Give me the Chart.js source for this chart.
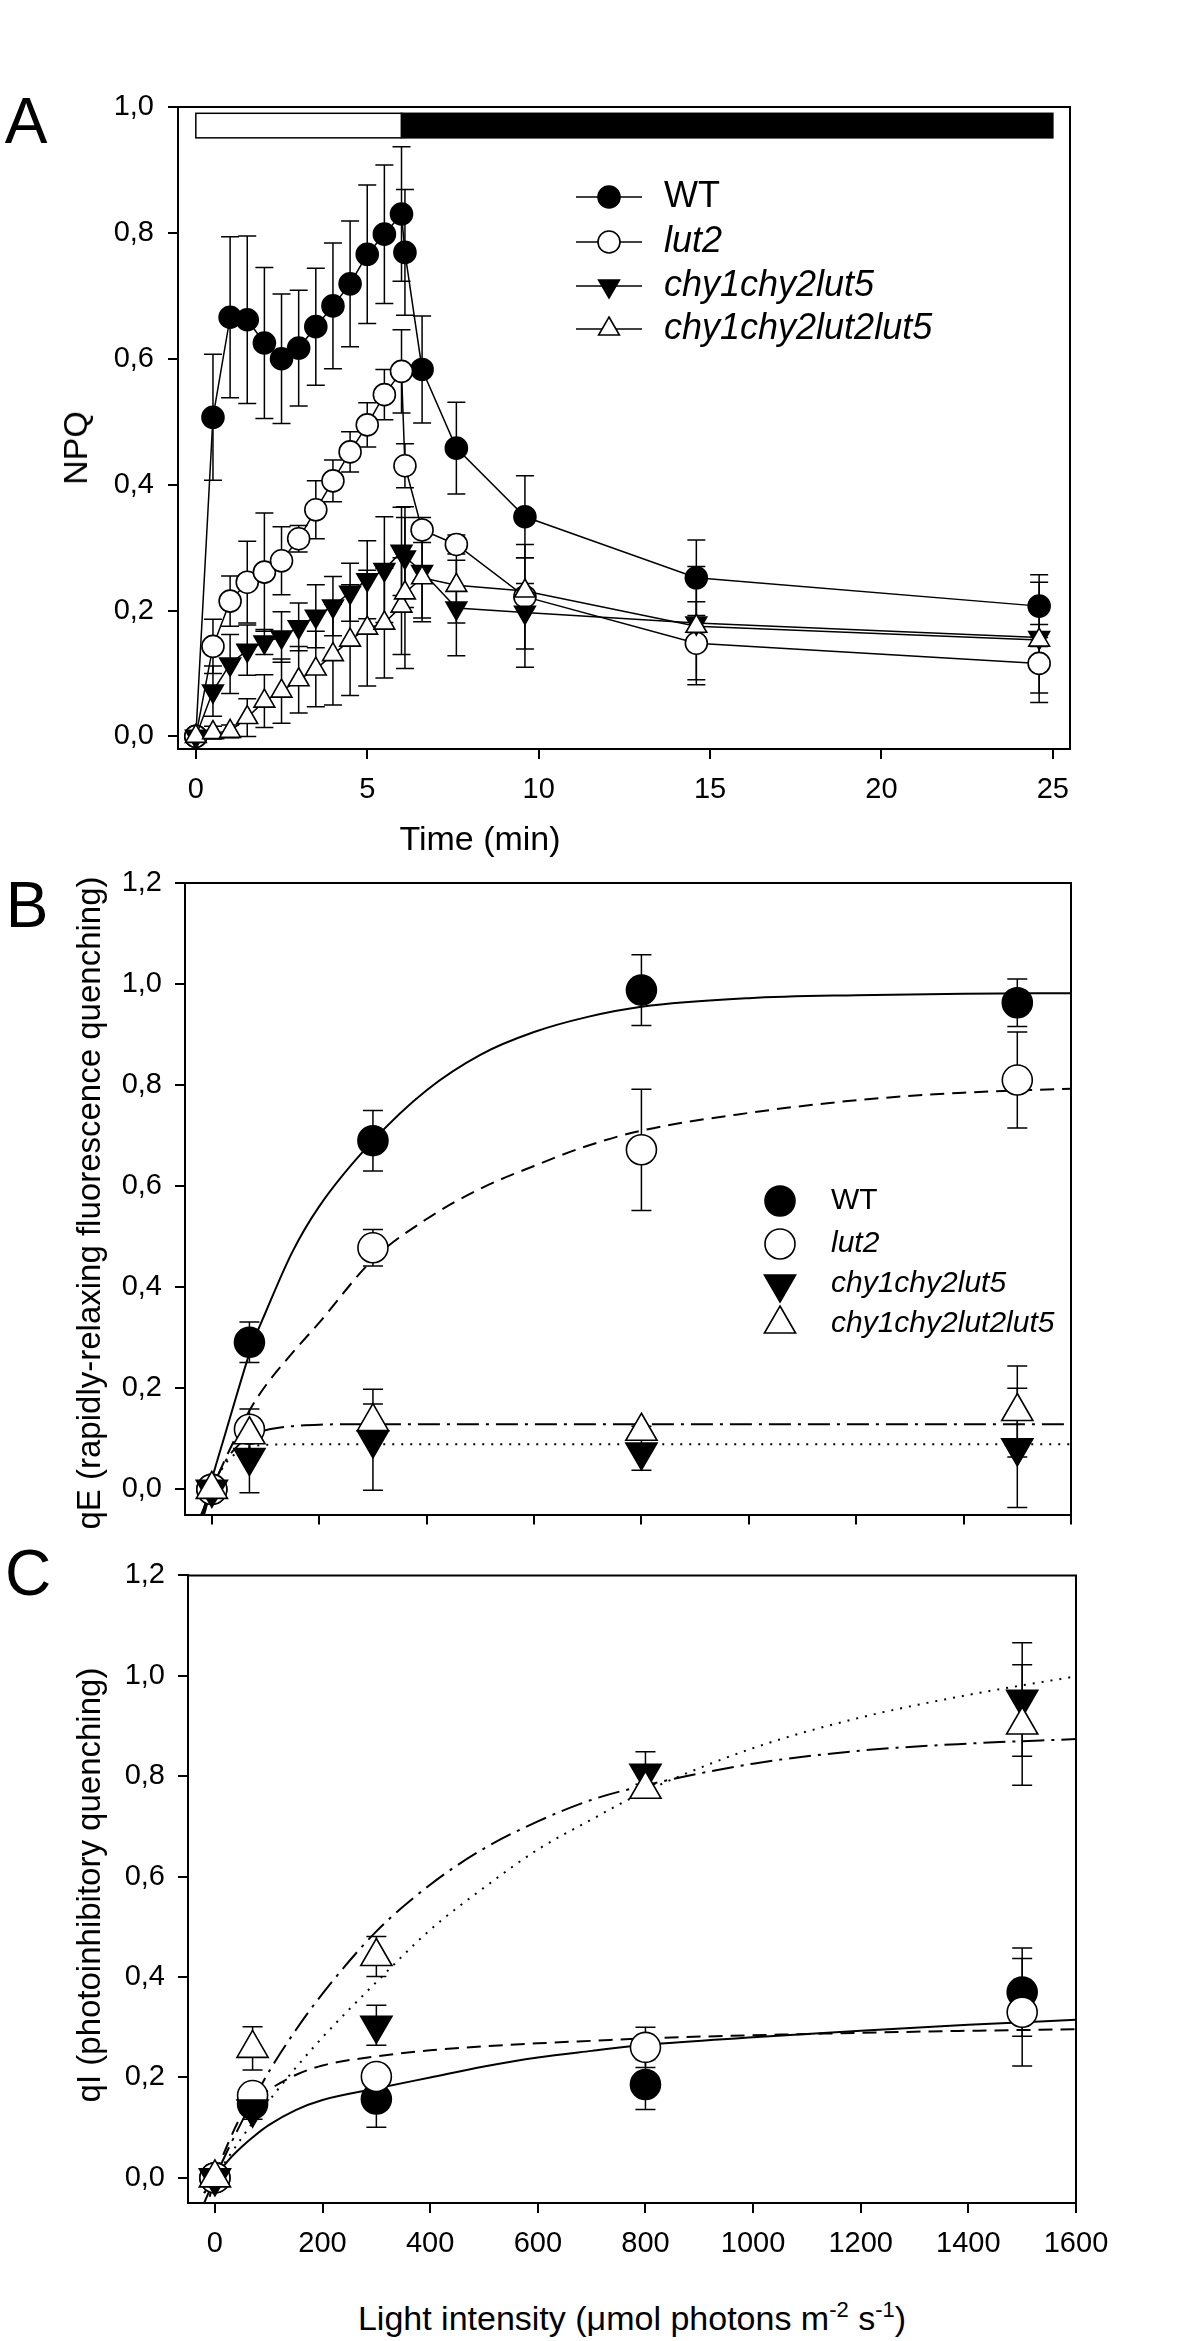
<!DOCTYPE html>
<html>
<head>
<meta charset="utf-8">
<script src="https://cdn.jsdelivr.net/npm/chart.js@4.4.1/dist/chart.umd.min.js"></script>
<style>
  html, body { margin: 0; padding: 0; background: #fff; }
  body { width: 1200px; height: 2341px; position: relative; overflow: hidden;
         font-family: 'Liberation Sans', Arial, sans-serif; color: #000; }
  canvas { position: absolute; left: 0; }
  .lbl { position: absolute; transform: translate(-50%, -50%); white-space: nowrap; line-height: 1; }
  .panel { font-size: 64px; }
  .title { font-size: 34px; }
  .rot { transform: translate(-50%, -50%) rotate(-90deg); }
  sup { font-size: 22px; line-height: 0; vertical-align: 0; position: relative; top: -13px; }
</style>
</head>
<body>
<canvas id="chartA" width="1200" height="810" style="top:0"></canvas>
<canvas id="chartB" width="1200" height="695" style="top:850px"></canvas>
<canvas id="chartC" width="1200" height="745" style="top:1545px"></canvas>

<div class="lbl panel" style="left:26px;top:121px">A</div>
<div class="lbl panel" style="left:27px;top:905px">B</div>
<div class="lbl panel" style="left:28px;top:1573px">C</div>

<div class="lbl title rot" style="left:75px;top:448px">NPQ</div>
<div class="lbl title" style="left:480px;top:838px">Time (min)</div>
<div class="lbl title rot" style="left:88px;top:1203px;font-size:33px">qE (rapidly-relaxing fluorescence quenching)</div>
<div class="lbl title rot" style="left:88px;top:1885px;font-size:33px">qI (photoinhibitory quenching)</div>
<div class="lbl title" style="left:632px;top:2318px">Light intensity (&mu;mol photons m<sup>-2</sup> s<sup>-1</sup>)</div>

<script>
const FONT = "'Liberation Sans', Arial, sans-serif";

// ---------- Panel A: NPQ during 6 min light and dark relaxation ----------
const timeA = [0, 0.5, 1, 1.5, 2, 2.5, 3, 3.5, 4, 4.5, 5, 5.5, 6, 6.1, 6.6, 7.6, 9.6, 14.6, 24.6];
const npqWT = [0, 0.507, 0.666, 0.662, 0.625, 0.600, 0.617, 0.651, 0.684, 0.719, 0.766, 0.798, 0.830, 0.769, 0.583, 0.458, 0.349, 0.252, 0.207];
const npqWTErr = [0, 0.10, 0.128, 0.133, 0.12, 0.103, 0.092, 0.093, 0.10, 0.10, 0.11, 0.11, 0.107, 0.10, 0.085, 0.073, 0.065, 0.06, 0.05];
const npqLut2 = [0, 0.143, 0.215, 0.245, 0.261, 0.279, 0.314, 0.360, 0.406, 0.452, 0.495, 0.543, 0.580, 0.430, 0.328, 0.305, 0.222, 0.148, 0.116];
const npqLut2Err = [0, 0.043, 0.04, 0.065, 0.094, 0.054, 0.021, 0.046, 0.033, 0.032, 0.035, 0.04, 0.066, 0.035, 0.02, 0.015, 0.083, 0.066, 0.062];
const npqChy = [0, 0.072, 0.115, 0.137, 0.150, 0.158, 0.174, 0.191, 0.207, 0.229, 0.249, 0.265, 0.294, 0.285, 0.262, 0.204, 0.197, 0.180, 0.157];
const npqChyErr = [0, 0.04, 0.047, 0.04, 0.02, 0.04, 0.038, 0.05, 0.047, 0.046, 0.062, 0.084, 0.07, 0.08, 0.074, 0.076, 0.087, 0.09, 0.088];
const npqTriple = [0, 0.006, 0.008, 0.030, 0.056, 0.072, 0.090, 0.107, 0.130, 0.153, 0.172, 0.180, 0.207, 0.228, 0.252, 0.240, 0.231, 0.175, 0.153];
const npqTripleErr = [0, 0.01, 0.01, 0.03, 0.042, 0.051, 0.053, 0.06, 0.08, 0.088, 0.092, 0.087, 0.077, 0.12, 0.07, 0.06, 0.012, 0.01, 0.01];
const lightOn = [0, 6];
const lightOff = [6, 25];
const ticksTime = [0, 5, 10, 15, 20, 25];
const ticksNPQ = [0, 0.2, 0.4, 0.6, 0.8, 1.0];

// ---------- Panels B and C: light response ----------
const lightI = [0, 70, 300, 800, 1500];
const qeWT = [0, 0.291, 0.690, 0.988, 0.963];
const qeWTErr = [0.01, 0.04, 0.06, 0.07, 0.047];
const qeLut2 = [0, 0.119, 0.478, 0.672, 0.810];
const qeLut2Err = [0.01, 0.04, 0.036, 0.12, 0.095];
const qeChy = [0, 0.063, 0.098, 0.074, 0.082];
const qeChyErr = [0.01, 0.07, 0.10, 0.036, 0.118];
const qeTriple = [0, 0.108, 0.134, 0.115, 0.154];
const qeTripleErr = [0.01, 0.03, 0.035, 0.01, 0.09];

const qiWT = [0, 0.147, 0.157, 0.186, 0.370];
const qiWTErr = [0.01, 0.02, 0.056, 0.05, 0.088];
const qiLut2 = [0, 0.164, 0.202, 0.260, 0.330];
const qiLut2Err = [0.01, 0.02, 0.02, 0.04, 0.107];
const qiChy = [0, 0.137, 0.304, 0.806, 0.953];
const qiChyErr = [0.01, 0.02, 0.04, 0.043, 0.113];
const qiTriple = [0, 0.258, 0.441, 0.774, 0.902];
const qiTripleErr = [0.01, 0.043, 0.04, 0.01, 0.12];

// fitted curves
const fitI = [-20, 0, 25, 50, 75, 100, 150, 200, 300, 400, 500, 600, 700, 800, 1000, 1200, 1400, 1600];
const qeFitWT = [-0.06, 0.02, 0.11, 0.20, 0.285, 0.35, 0.47, 0.56, 0.69, 0.79, 0.86, 0.905, 0.935, 0.955, 0.972, 0.978, 0.981, 0.982];
const qeFitLut2 = [-0.05, 0, 0.06, 0.115, 0.165, 0.205, 0.27, 0.33, 0.455, 0.535, 0.595, 0.64, 0.68, 0.71, 0.745, 0.77, 0.785, 0.793];
const qeFitChy = [-0.06, 0, 0.05, 0.075, 0.085, 0.088, 0.089, 0.089, 0.089, 0.089, 0.089, 0.089, 0.089, 0.089, 0.089, 0.089, 0.089, 0.089];
const qeFitTriple = [-0.07, 0, 0.055, 0.088, 0.107, 0.117, 0.125, 0.128, 0.129, 0.129, 0.129, 0.129, 0.129, 0.129, 0.129, 0.129, 0.129, 0.129];
const qiFitWT = [-0.03, 0, 0.035, 0.062, 0.085, 0.105, 0.135, 0.155, 0.178, 0.20, 0.222, 0.24, 0.253, 0.265, 0.28, 0.293, 0.305, 0.315];
const qiFitLut2 = [-0.08, 0, 0.07, 0.125, 0.155, 0.175, 0.205, 0.224, 0.242, 0.254, 0.262, 0.268, 0.273, 0.278, 0.284, 0.289, 0.293, 0.296];
const qiFitChy = [-0.03, 0, 0.041, 0.08, 0.117, 0.153, 0.219, 0.28, 0.39, 0.494, 0.578, 0.654, 0.714, 0.77, 0.856, 0.917, 0.962, 0.999];
const qiFitTriple = [-0.05, 0, 0.058, 0.112, 0.162, 0.211, 0.294, 0.367, 0.491, 0.584, 0.656, 0.71, 0.753, 0.782, 0.825, 0.851, 0.865, 0.874];

const ticksLight = [0, 200, 400, 600, 800, 1000, 1200, 1400, 1600];
const ticksQ = [0, 0.2, 0.4, 0.6, 0.8, 1.0, 1.2];

const genotypes = ['WT', 'lut2', 'chy1chy2lut5', 'chy1chy2lut2lut5'];

// symbol per genotype
const symbols = [
  { pointStyle: 'circle', rotation: 0, fill: '#000', italic: false },
  { pointStyle: 'circle', rotation: 0, fill: '#fff', italic: true },
  { pointStyle: 'triangle', rotation: 180, fill: '#000', italic: true },
  { pointStyle: 'triangle', rotation: 0, fill: '#fff', italic: true }
];
const fitDash = [[], [14, 8], [2, 7], [22, 7, 3, 7]];

const pts = (xs, ys) => xs.map((x, i) => ({ x, y: ys[i] }));
const comma = (v) => v.toFixed(1).replace('.', ',');

function drawMarker(ctx, sym, x, y, r, lw) {
  ctx.beginPath();
  if (sym.pointStyle === 'circle') {
    ctx.arc(x, y, r, 0, Math.PI * 2);
  } else {
    const s = sym.rotation === 180 ? -1 : 1;
    ctx.moveTo(x, y - s * r);
    ctx.lineTo(x + r * 0.866, y + s * r / 2);
    ctx.lineTo(x - r * 0.866, y + s * r / 2);
    ctx.closePath();
  }
  ctx.fillStyle = sym.fill;
  ctx.fill();
  ctx.lineWidth = lw;
  ctx.strokeStyle = '#000';
  ctx.stroke();
}

const errorBars = {
  id: 'errorBars',
  beforeDatasetsDraw(chart, args, o) {
    const { ctx, scales: { x, y } } = chart;
    ctx.save();
    ctx.strokeStyle = '#000';
    ctx.lineWidth = o.width || 1.5;
    chart.data.datasets.forEach((ds) => {
      if (!ds.errors) return;
      ds.data.forEach((p, i) => {
        const e = ds.errors[i];
        if (!e) return;
        const px = x.getPixelForValue(p.x);
        const top = y.getPixelForValue(p.y + e);
        const bot = y.getPixelForValue(p.y - e);
        ctx.beginPath();
        ctx.moveTo(px, top); ctx.lineTo(px, bot);
        ctx.moveTo(px - o.cap, top); ctx.lineTo(px + o.cap, top);
        ctx.moveTo(px - o.cap, bot); ctx.lineTo(px + o.cap, bot);
        ctx.stroke();
      });
    });
    ctx.restore();
  }
};

const frame = {
  id: 'frame',
  afterDraw(chart) {
    const { ctx, chartArea: a } = chart;
    ctx.save();
    ctx.strokeStyle = '#000';
    ctx.lineWidth = 2;
    ctx.beginPath();
    ctx.moveTo(a.left, a.top);
    ctx.lineTo(a.right, a.top);
    ctx.lineTo(a.right, a.bottom);
    ctx.stroke();
    ctx.restore();
  }
};

const lightBar = {
  id: 'lightBar',
  afterDatasetsDraw(chart, args, o) {
    if (!o.periods) return;
    const { ctx, scales: { x, y } } = chart;
    const top = y.getPixelForValue(o.band[1]);
    const bot = y.getPixelForValue(o.band[0]);
    ctx.save();
    ctx.lineWidth = 1.5;
    ctx.strokeStyle = '#000';
    o.periods.forEach((p) => {
      const x0 = x.getPixelForValue(p.range[0]);
      const x1 = x.getPixelForValue(p.range[1]);
      ctx.fillStyle = p.fill;
      ctx.fillRect(x0, top, x1 - x0, bot - top);
      ctx.strokeRect(x0, top, x1 - x0, bot - top);
    });
    ctx.restore();
  }
};

const keyLegend = {
  id: 'keyLegend',
  afterDraw(chart, args, o) {
    if (!o.rows) return;
    const ctx = chart.ctx;
    ctx.save();
    chart.data.datasets.filter((d) => d.sym).forEach((ds, i) => {
      const y = o.rows[i];
      if (o.line) {
        ctx.strokeStyle = '#000';
        ctx.lineWidth = 1.5;
        ctx.beginPath();
        ctx.moveTo(o.line[0], y);
        ctx.lineTo(o.line[1], y);
        ctx.stroke();
      }
      drawMarker(ctx, ds.sym, o.markerX, y, ds.pointRadius, ds.pointBorderWidth);
      ctx.fillStyle = '#000';
      ctx.textBaseline = 'middle';
      ctx.textAlign = 'left';
      ctx.font = (ds.sym.italic ? 'italic ' : '') + o.fontSize + 'px ' + FONT;
      ctx.fillText(ds.label, o.textX, y);
    });
    ctx.restore();
  }
};

function axis(min, max, ticks, fmt, size) {
  return {
    type: 'linear',
    min,
    max,
    afterBuildTicks: (s) => { s.ticks = ticks.map((v) => ({ value: v })); },
    afterFit: (s) => {
      if (size.width != null) s.width = size.width;
      if (size.height != null) s.height = size.height;
    },
    grid: { drawOnChartArea: false, drawTicks: true, tickLength: 10, lineWidth: 2, color: '#000' },
    border: { display: true, color: '#000', width: 2 },
    ticks: {
      display: size.labels !== false,
      color: '#000',
      padding: size.padding || 13,
      font: { family: FONT, size: 29 },
      callback: fmt
    }
  };
}

function markerSet(label, xs, ys, errs, k, radius, extra) {
  const s = symbols[k];
  return Object.assign({
    label,
    sym: s,
    data: pts(xs, ys),
    errors: errs,
    showLine: false,
    pointStyle: s.pointStyle,
    pointRotation: s.rotation,
    pointRadius: radius,
    pointBackgroundColor: s.fill,
    pointBorderColor: '#000',
    pointBorderWidth: 1.6,
    order: 4 - k
  }, extra || {});
}

function fitSet(ys, k) {
  return {
    data: pts(fitI, ys),
    showLine: true,
    pointRadius: 0,
    borderColor: '#000',
    borderWidth: 2,
    borderDash: fitDash[k],
    cubicInterpolationMode: 'monotone',
    order: 20 + k
  };
}

const base = {
  responsive: false,
  animation: false,
  events: []
};

// Panel A
new Chart(document.getElementById('chartA'), {
  type: 'scatter',
  data: {
    datasets: [
      markerSet(genotypes[0], timeA, npqWT, npqWTErr, 0, 11, { showLine: true, borderColor: '#000', borderWidth: 1.5 }),
      markerSet(genotypes[1], timeA, npqLut2, npqLut2Err, 1, 11, { showLine: true, borderColor: '#000', borderWidth: 1.5 }),
      markerSet(genotypes[2], timeA, npqChy, npqChyErr, 2, 12, { showLine: true, borderColor: '#000', borderWidth: 1.5 }),
      markerSet(genotypes[3], timeA, npqTriple, npqTripleErr, 3, 12, { showLine: true, borderColor: '#000', borderWidth: 1.5 })
    ]
  },
  options: Object.assign({}, base, {
    layout: { padding: { left: 0, right: 130, top: 107, bottom: 0 } },
    plugins: {
      legend: { display: false },
      tooltip: { enabled: false },
      errorBars: { cap: 9, width: 1.5 },
      lightBar: {
        band: [0.951, 0.99],
        periods: [{ range: lightOn, fill: '#fff' }, { range: lightOff, fill: '#000' }]
      },
      keyLegend: { rows: [197, 242, 286, 329], line: [576, 642], markerX: 609, textX: 664, fontSize: 36 }
    },
    scales: {
      x: axis(-0.52, 25.5, ticksTime, (v) => String(v), { height: 61, padding: 14 }),
      y: axis(-0.02, 1.0, ticksNPQ, comma, { width: 178, padding: 14 })
    }
  }),
  plugins: [errorBars, frame, lightBar, keyLegend]
});

// Panel B
new Chart(document.getElementById('chartB'), {
  type: 'scatter',
  data: {
    datasets: [
      markerSet(genotypes[0], lightI, qeWT, qeWTErr, 0, 15),
      markerSet(genotypes[1], lightI, qeLut2, qeLut2Err, 1, 15),
      markerSet(genotypes[2], lightI, qeChy, qeChyErr, 2, 18),
      markerSet(genotypes[3], lightI, qeTriple, qeTripleErr, 3, 18),
      fitSet(qeFitWT, 0),
      fitSet(qeFitLut2, 1),
      fitSet(qeFitChy, 2),
      fitSet(qeFitTriple, 3)
    ]
  },
  options: Object.assign({}, base, {
    layout: { padding: { left: 0, right: 129, top: 33, bottom: 0 } },
    plugins: {
      legend: { display: false },
      tooltip: { enabled: false },
      errorBars: { cap: 10, width: 1.5 },
      keyLegend: { rows: [351, 394, 434, 474], markerX: 780, textX: 831, fontSize: 30 }
    },
    scales: {
      x: axis(-50, 1600, ticksLight, (v) => String(v), { height: 22, labels: false }),
      y: axis(-0.05, 1.2, ticksQ, comma, { width: 185 })
    }
  }),
  plugins: [errorBars, frame, keyLegend]
});

// Panel C
new Chart(document.getElementById('chartC'), {
  type: 'scatter',
  data: {
    datasets: [
      markerSet(genotypes[0], lightI, qiWT, qiWTErr, 0, 15),
      markerSet(genotypes[1], lightI, qiLut2, qiLut2Err, 1, 15),
      markerSet(genotypes[2], lightI, qiChy, qiChyErr, 2, 18),
      markerSet(genotypes[3], lightI, qiTriple, qiTripleErr, 3, 18),
      fitSet(qiFitWT, 0),
      fitSet(qiFitLut2, 1),
      fitSet(qiFitChy, 2),
      fitSet(qiFitTriple, 3)
    ]
  },
  options: Object.assign({}, base, {
    layout: { padding: { left: 0, right: 124, top: 19, bottom: 0 } },
    plugins: {
      legend: { display: false },
      tooltip: { enabled: false },
      errorBars: { cap: 10, width: 1.5 }
    },
    scales: {
      x: axis(-50, 1600, ticksLight, (v) => String(v), { height: 87, padding: 14 }),
      y: axis(-0.05, 1.2, ticksQ, comma, { width: 188 })
    }
  }),
  plugins: [errorBars, frame]
});
</script>
</body>
</html>
